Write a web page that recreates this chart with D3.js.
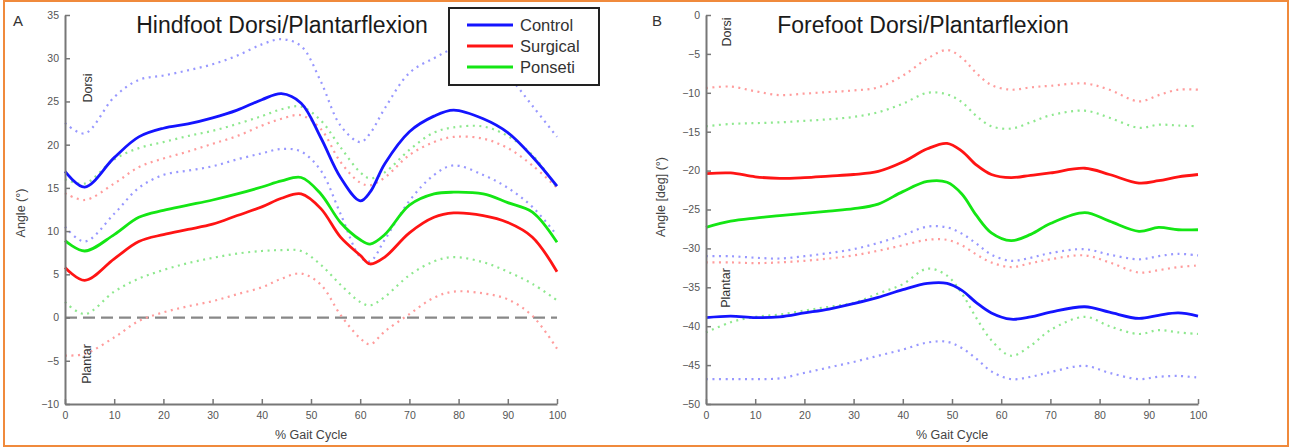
<!DOCTYPE html>
<html>
<head>
<meta charset="utf-8">
<script src="https://cdn.jsdelivr.net/npm/d3@7"></script>
<style>
  body { margin: 0; background: #fff; }
  svg { font-family: "Liberation Sans", Arial, sans-serif; }
  .tick text { fill: #555; font-size: 10.5px; }
  .axis path, .axis line { stroke: #777; }
  .axis path { stroke-width: 2; }
  .axis line { stroke-width: 1.5; }
</style>
</head>
<body>
<div id="chart"></div>
<script>
// ---- data ----
const gaitA = [0, 4, 10, 15, 20, 25, 30, 35, 40, 44, 48, 52, 56, 60, 62, 65, 70, 75, 79, 85, 90, 95, 100];
const hindControl      = [16.9, 15.1, 18.5, 20.9, 21.9, 22.4, 23.1, 24.0, 25.2, 25.9, 24.8, 20.8, 16.2, 13.5, 14.5, 17.8, 21.5, 23.3, 24.0, 23.0, 21.4, 18.6, 15.2];
const hindControlHi    = [22.5, 21.3, 25.5, 27.5, 28.0, 28.6, 29.3, 30.3, 31.6, 32.2, 31.4, 27.3, 22.2, 20.3, 21.3, 24.2, 28.3, 30.0, 31.0, 30.5, 28.0, 24.5, 20.9];
const hindControlLo    = [10.5, 8.8, 12.0, 15.0, 16.5, 17.0, 17.5, 18.3, 19.0, 19.5, 19.2, 17.0, 12.0, 7.0, 6.5, 9.0, 13.5, 16.5, 17.6, 16.5, 15.0, 12.8, 9.5];
const hindSurgical     = [5.8, 4.3, 6.8, 8.8, 9.6, 10.2, 10.8, 11.8, 12.8, 13.8, 14.3, 12.6, 9.3, 7.2, 6.2, 7.0, 9.8, 11.6, 12.1, 11.8, 11.0, 9.3, 5.3];
const hindSurgicalHi   = [14.4, 13.6, 15.5, 17.4, 18.4, 19.2, 20.1, 21.0, 22.2, 23.0, 23.4, 21.8, 18.0, 15.6, 15.3, 16.2, 18.8, 20.3, 20.9, 20.7, 19.6, 17.6, 15.0];
const hindSurgicalLo   = [-4.4, -4.2, -2.3, -0.4, 0.6, 1.3, 1.9, 2.7, 3.5, 4.5, 5.1, 3.8, 0.3, -2.4, -3.1, -1.6, 0.4, 2.3, 3.0, 2.8, 2.1, 0.2, -3.6];
const hindPonseti      = [8.9, 7.7, 9.6, 11.6, 12.4, 13.0, 13.6, 14.3, 15.1, 15.8, 16.2, 14.3, 11.0, 9.0, 8.5, 9.6, 13.0, 14.3, 14.5, 14.3, 13.3, 12.2, 8.7];
const hindPonsetiHi    = [16.0, 15.5, 18.3, 19.6, 20.3, 21.0, 21.6, 22.4, 23.3, 24.1, 24.4, 22.8, 19.7, 16.8, 16.1, 16.8, 19.4, 21.4, 22.0, 22.1, 21.0, 18.8, 15.0];
const hindPonsetiLo    = [1.8, 0.4, 3.0, 4.5, 5.5, 6.3, 6.9, 7.4, 7.7, 7.8, 7.7, 6.1, 3.8, 1.8, 1.4, 2.4, 4.9, 6.5, 7.0, 6.4, 5.3, 3.9, 2.0];

const gaitB = [0, 5, 10, 15, 20, 25, 30, 35, 40, 45, 49, 52, 55, 58, 62, 66, 70, 77, 82, 88, 92, 96, 100];
const foreControl      = [-38.9, -38.7, -38.9, -38.8, -38.3, -37.8, -37.1, -36.3, -35.3, -34.5, -34.5, -35.4, -37.0, -38.3, -39.1, -38.8, -38.2, -37.5, -38.2, -39.0, -38.6, -38.3, -38.7];
const foreControlHi    = [-31.0, -31.0, -31.2, -31.3, -31.0, -30.6, -30.1, -29.3, -28.3, -27.2, -27.3, -28.1, -29.4, -30.8, -31.6, -31.2, -30.6, -30.1, -30.8, -31.4, -31.0, -30.7, -30.9];
const foreControlLo    = [-46.8, -46.8, -46.8, -46.7, -46.0, -45.3, -44.6, -43.8, -43.0, -42.1, -42.0, -42.8, -44.2, -45.8, -46.8, -46.5, -45.9, -45.1, -46.0, -46.8, -46.5, -46.4, -46.6];
const foreSurgical     = [-20.4, -20.3, -20.8, -21.0, -20.9, -20.7, -20.5, -20.1, -18.9, -17.2, -16.5, -17.5, -19.3, -20.5, -20.9, -20.6, -20.3, -19.7, -20.5, -21.6, -21.3, -20.8, -20.5];
const foreSurgicalHi   = [-9.4, -9.2, -9.8, -10.3, -10.1, -9.9, -9.7, -9.3, -7.8, -5.6, -4.5, -5.5, -7.5, -9.0, -9.6, -9.3, -9.1, -8.8, -9.6, -11.1, -10.3, -9.6, -9.6];
const foreSurgicalLo   = [-31.8, -31.8, -31.9, -31.8, -31.6, -31.3, -30.9, -30.3, -29.6, -28.9, -28.9, -29.6, -30.8, -31.8, -32.4, -31.9, -31.4, -30.9, -31.8, -33.1, -32.8, -32.4, -32.2];
const forePonseti      = [-27.3, -26.5, -26.1, -25.8, -25.5, -25.2, -24.9, -24.3, -22.7, -21.4, -21.5, -23.0, -25.8, -28.0, -29.0, -28.2, -26.8, -25.4, -26.5, -27.8, -27.3, -27.6, -27.6];
const forePonsetiHi    = [-14.3, -14.0, -13.9, -13.8, -13.6, -13.4, -13.1, -12.5, -11.4, -10.0, -10.2, -11.2, -13.0, -14.3, -14.6, -13.8, -12.9, -12.3, -13.2, -14.5, -14.1, -14.2, -14.3];
const forePonsetiLo    = [-40.8, -39.5, -38.8, -38.5, -38.0, -37.5, -37.0, -35.8, -34.6, -32.6, -33.5, -35.8, -39.0, -41.8, -43.8, -42.5, -40.5, -38.8, -40.0, -41.0, -40.5, -40.8, -41.0];

const groups = ["Control", "Surgical", "Ponseti"];
const xTicks = [0, 10, 20, 30, 40, 50, 60, 70, 80, 90, 100];
const hindTicks = [-10, -5, 0, 5, 10, 15, 20, 25, 30, 35];
const foreTicks = [-50, -45, -40, -35, -30, -25, -20, -15, -10, -5, 0];

// ---- styles ----
const solidColor = { Control: "#1414ff", Surgical: "#ff1414", Ponseti: "#14e614" };
const dotColor   = { Control: "#9898ff", Surgical: "#ff9c9c", Ponseti: "#8ee88e" };

const width = 1305, height = 448;
const svg = d3.select("#chart").append("svg")
  .attr("width", width).attr("height", height);

svg.append("rect")
  .attr("x", 4).attr("y", 1).attr("width", 1284).attr("height", 445)
  .attr("fill", "#fff").attr("stroke", "#f08a3c").attr("stroke-width", 2);

function drawPanel(p) {
  const x = d3.scaleLinear().domain([0, 100]).range(p.xRange);
  const y = d3.scaleLinear().domain(p.yDomain).range([404, 15]);
  const g = svg.append("g");

  const line = d3.line()
    .x((d) => x(d[0]))
    .y((d) => y(d[1]))
    .curve(d3.curveCatmullRom.alpha(0.5));

  if (p.zeroLine) {
    g.append("line")
      .attr("x1", x(0)).attr("x2", x(100))
      .attr("y1", y(0)).attr("y2", y(0))
      .attr("stroke", "#888").attr("stroke-width", 2.2)
      .attr("stroke-dasharray", "12,6");
  }

  // dotted bands first, solid means on top
  p.series.forEach((s) => {
    [s.hi, s.lo].forEach((arr) => {
      g.append("path")
        .datum(p.gait.map((v, i) => [v, arr[i]]))
        .attr("d", line)
        .attr("fill", "none")
        .attr("stroke", dotColor[s.name])
        .attr("stroke-width", 2.2)
        .attr("stroke-dasharray", "2,4.5");
    });
  });
  p.series.forEach((s) => {
    g.append("path")
      .datum(p.gait.map((v, i) => [v, s.mean[i]]))
      .attr("d", line)
      .attr("fill", "none")
      .attr("stroke", solidColor[s.name])
      .attr("stroke-width", 2.8);
  });

  g.append("g")
    .attr("class", "axis")
    .attr("transform", `translate(0,${y(p.yDomain[0])})`)
    .call(d3.axisBottom(x).tickValues(xTicks).tickSizeInner(-5).tickSizeOuter(0).tickPadding(8));

  g.append("g")
    .attr("class", "axis")
    .attr("transform", `translate(${x(0)},0)`)
    .call(d3.axisLeft(y).tickValues(p.yTicks).tickSizeInner(-5).tickSizeOuter(0).tickPadding(6));

  // texts
  g.append("text")
    .text(p.letter)
    .attr("x", p.letterX).attr("y", 26)
    .attr("font-size", 15).attr("fill", "#333");

  g.append("text")
    .text(p.title)
    .attr("x", p.titleX).attr("y", 33)
    .attr("text-anchor", "middle")
    .attr("font-size", 23).attr("fill", "#1a1a1a");

  g.append("text")
    .text("% Gait Cycle")
    .attr("x", x(50)).attr("y", 439)
    .attr("text-anchor", "middle")
    .attr("font-size", 12.5).attr("fill", "#444");

  g.append("text")
    .text(p.yLabel)
    .attr("transform", `translate(${p.yLabelPos[0]},${p.yLabelPos[1]}) rotate(-90)`)
    .attr("text-anchor", "middle")
    .attr("font-size", 12.5).attr("fill", "#444");

  [["Dorsi", p.dorsiPos], ["Plantar", p.plantarPos]].forEach(([t, pos]) => {
    g.append("text")
      .text(t)
      .attr("transform", `translate(${pos[0]},${pos[1]}) rotate(-90)`)
      .attr("text-anchor", "middle")
      .attr("font-size", 12.5).attr("fill", "#333");
  });
}

drawPanel({
  gait: gaitA,
  xRange: [65, 557],
  yDomain: [-10, 35],
  yTicks: hindTicks,
  zeroLine: true,
  series: [
    { name: "Control",  mean: hindControl,  hi: hindControlHi,  lo: hindControlLo },
    { name: "Surgical", mean: hindSurgical, hi: hindSurgicalHi, lo: hindSurgicalLo },
    { name: "Ponseti",  mean: hindPonseti,  hi: hindPonsetiHi,  lo: hindPonsetiLo }
  ],
  letter: "A", letterX: 13,
  title: "Hindfoot Dorsi/Plantarflexion", titleX: 282,
  yLabel: "Angle (\u00b0)", yLabelPos: [25, 213],
  dorsiPos: [92, 88], plantarPos: [91, 364]
});

drawPanel({
  gait: gaitB,
  xRange: [706, 1198],
  yDomain: [-50, 0],
  yTicks: foreTicks,
  zeroLine: false,
  series: [
    { name: "Control",  mean: foreControl,  hi: foreControlHi,  lo: foreControlLo },
    { name: "Surgical", mean: foreSurgical, hi: foreSurgicalHi, lo: foreSurgicalLo },
    { name: "Ponseti",  mean: forePonseti,  hi: forePonsetiHi,  lo: forePonsetiLo }
  ],
  letter: "B", letterX: 652,
  title: "Forefoot Dorsi/Plantarflexion", titleX: 923,
  yLabel: "Angle [deg] (\u00b0)", yLabelPos: [665, 197],
  dorsiPos: [731, 32], plantarPos: [730, 288]
});

// legend (left panel)
const legend = svg.append("g").attr("transform", "translate(449,8)");
legend.append("rect")
  .attr("width", 150).attr("height", 77)
  .attr("fill", "#fff").attr("stroke", "#222").attr("stroke-width", 2);
const items = legend.selectAll(".item")
  .data(groups).enter()
  .append("g")
    .attr("class", "item")
    .attr("transform", (d, i) => `translate(0,${17 + i * 21})`);
items.append("line")
  .attr("x1", 18).attr("x2", 64)
  .attr("stroke", (d) => solidColor[d]).attr("stroke-width", 2.8);
items.append("text")
  .text((d) => d)
  .attr("x", 71).attr("dy", 5.5)
  .attr("font-size", 16.5).attr("fill", "#333");
</script>
</body>
</html>
